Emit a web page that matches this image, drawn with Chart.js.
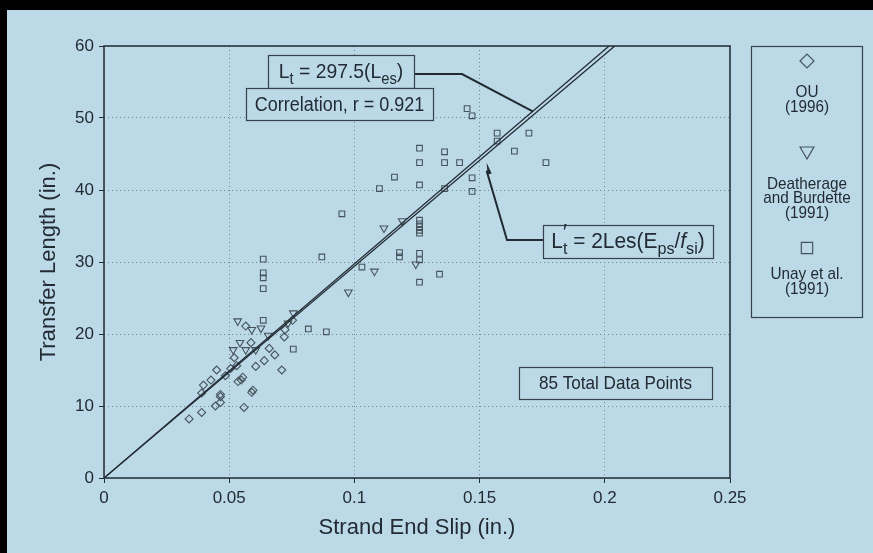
<!DOCTYPE html>
<html>
<head>
<meta charset="utf-8">
<script src="https://cdn.jsdelivr.net/npm/chart.js@4.4.0/dist/chart.umd.min.js"></script>
<style>
  html, body { margin: 0; padding: 0; background: #bcd9e8; }
  #wrap { width: 873px; height: 553px; }
</style>
</head>
<body>
<div id="wrap"><canvas id="myChart" width="873" height="553"></canvas></div>
<script>
// OU (1996) - diamantes
const ouX = [0.034, 0.039, 0.0445, 0.0465, 0.0465, 0.0465, 0.0397, 0.0427, 0.045, 0.0506, 0.053, 0.0535, 0.0548, 0.0554, 0.059, 0.0595, 0.0559, 0.0606, 0.0587, 0.0566, 0.071, 0.0682, 0.066, 0.072, 0.0723, 0.0753, 0.039, 0.0485, 0.064, 0.052];
const ouY = [8.2, 9.1, 10.0, 10.5, 11.3, 11.6, 12.9, 13.6, 15.0, 15.2, 15.6, 13.4, 13.6, 14.0, 11.9, 12.2, 9.8, 15.5, 18.8, 21.1, 15.0, 17.1, 18.0, 19.6, 20.6, 21.9, 11.8, 14.2, 16.3, 16.7];

// Deatherage and Burdette (1991) - triangulos
const dbX = [0.0534, 0.059, 0.0627, 0.0543, 0.0516, 0.0566, 0.0606, 0.0656, 0.0756, 0.1118, 0.1191, 0.108, 0.0976, 0.1245, 0.0735];
const dbY = [21.8, 20.6, 20.8, 18.8, 17.8, 17.8, 17.8, 19.8, 22.9, 34.7, 35.7, 28.7, 25.8, 29.7, 21.5];

// Unay et al. (1991) - cuadrados
const unX = [0.0636, 0.0636, 0.0636, 0.0636, 0.0636, 0.0816, 0.0888, 0.0756, 0.145, 0.147, 0.157, 0.157, 0.1697, 0.1639, 0.1765, 0.126, 0.136, 0.126, 0.136, 0.142, 0.147, 0.147, 0.116, 0.110, 0.126, 0.136, 0.095, 0.126, 0.126, 0.126, 0.126, 0.126, 0.118, 0.118, 0.126, 0.126, 0.134, 0.126, 0.103, 0.087];
const unY = [30.4, 28.5, 27.8, 26.3, 21.9, 20.7, 20.3, 17.9, 51.3, 50.3, 47.9, 46.8, 47.9, 45.4, 43.8, 45.8, 45.3, 43.8, 43.8, 43.8, 41.7, 39.8, 41.8, 40.2, 40.7, 40.2, 36.7, 35.8, 35.3, 34.9, 34.4, 34.0, 31.3, 30.7, 31.2, 30.3, 28.3, 27.2, 29.3, 30.7];

// rectas de ajuste (desde el origen hasta el borde superior)
const ltX = [0, 0.2017];
const ltY = [0, 60];
const ltpX = [0, 0.2040];
const ltpY = [0, 60];

const xTicks = [0, 0.05, 0.1, 0.15, 0.2, 0.25];
const yTicks = [0, 10, 20, 30, 40, 50, 60];

const BG = '#bcd9e8';
const INK = '#222b33';
const MARK = '#47545e';
const FONT = '"Liberation Sans", Arial, Helvetica, sans-serif';

const toPoints = (xs, ys) => xs.map((x, i) => ({ x: x, y: ys[i] }));

function fontFor(kind, size) {
    if (kind === 'sub') return `${Math.round(size * 0.78)}px ${FONT}`;
    if (kind === 'i') return `italic ${size}px ${FONT}`;
    return `${size}px ${FONT}`;
}

// texto con subindices, centrado en cx, linea base en by, comprimido en horizontal
function richText(ctx, parts, cx, by, size, sx) {
    const w = (p) => {
        if (p[1] === 'pr') return 0;
        ctx.font = fontFor(p[1], size);
        return ctx.measureText(p[0]).width * sx;
    };
    const total = parts.reduce((s, p) => s + w(p), 0);
    let x = cx - total / 2;
    ctx.fillStyle = INK;
    ctx.textAlign = 'left';
    ctx.textBaseline = 'alphabetic';
    parts.forEach((p) => {
        ctx.font = fontFor(p[1], size);
        let dy = 0;
        if (p[1] === 'sub') dy = size * 0.28;
        if (p[1] === 'pr') dy = -size * 0.42;
        ctx.save();
        ctx.translate(x, by + dy);
        ctx.scale(sx, 1);
        ctx.fillText(p[0], 0, 0);
        ctx.restore();
        x += w(p);
    });
}

function box(ctx, x1, y1, x2, y2) {
    ctx.fillStyle = BG;
    ctx.fillRect(x1, y1, x2 - x1, y2 - y1);
    ctx.strokeStyle = '#36424b';
    ctx.lineWidth = 1.2;
    ctx.strokeRect(x1 + 0.5, y1 + 0.5, x2 - x1, y2 - y1);
}

const paperPlugin = {
    id: 'paper',
    beforeDraw(chart) {
        const ctx = chart.ctx;
        ctx.save();
        ctx.fillStyle = BG;
        ctx.fillRect(0, 0, chart.width, chart.height);
        ctx.fillStyle = '#000';
        ctx.fillRect(0, 0, chart.width, 10);
        ctx.fillRect(0, 0, 7, chart.height);
        ctx.restore();
    },
    afterDraw(chart) {
        const ctx = chart.ctx;
        const a = chart.chartArea;
        const xs = chart.scales.x;
        const ys = chart.scales.y;
        ctx.save();

        // marco del grafico
        ctx.strokeStyle = INK;
        ctx.lineWidth = 1.5;
        ctx.strokeRect(a.left, a.top, a.right - a.left, a.bottom - a.top);

        // llamada 1: Lt = 297.5(Les)
        const tip1x = xs.getPixelForValue(0.1714);
        const tip1y = ys.getPixelForValue(50.9);
        ctx.strokeStyle = INK;
        ctx.lineWidth = 2;
        ctx.beginPath();
        ctx.moveTo(414, 74);
        ctx.lineTo(462, 74);
        ctx.lineTo(tip1x, tip1y);
        ctx.stroke();

        // llamada 2: L't = 2Les(Eps/fsi)
        const tip2x = xs.getPixelForValue(0.1528);
        const tip2y = ys.getPixelForValue(43.8);
        ctx.beginPath();
        ctx.moveTo(543, 240);
        ctx.lineTo(507, 240);
        ctx.lineTo(tip2x, tip2y + 8);
        ctx.stroke();
        // punta de flecha
        const ang = Math.atan2(tip2y - 240, tip2x - 507);
        ctx.fillStyle = INK;
        ctx.beginPath();
        ctx.moveTo(tip2x, tip2y);
        ctx.lineTo(tip2x - 12 * Math.cos(ang - 0.18), tip2y - 12 * Math.sin(ang - 0.18));
        ctx.lineTo(tip2x - 12 * Math.cos(ang + 0.18), tip2y - 12 * Math.sin(ang + 0.18));
        ctx.closePath();
        ctx.fill();

        box(ctx, 268, 55, 414, 88);
        richText(ctx, [['L', 'n'], ['t', 'sub'], [' = 297.5(L', 'n'], ['es', 'sub'], [')', 'n']], 341, 78, 21, 0.92);
        box(ctx, 246, 88, 433, 120);
        richText(ctx, [['Correlation, r = 0.921', 'n']], 339.5, 111, 20, 0.9);

        box(ctx, 543, 225, 713, 258);
        richText(ctx, [['L', 'n'], ['\u2032', 'pr'], ['t', 'sub'], [' = 2Les(E', 'n'], ['ps', 'sub'], ['/', 'n'], ['f', 'i'], ['si', 'sub'], [')', 'n']], 628, 248, 22, 0.95);

        box(ctx, 519, 367, 712, 399);
        richText(ctx, [['85 Total Data Points', 'n']], 615.5, 389, 19, 0.9);

        // leyenda
        box(ctx, 751, 46, 862, 317);
        const lx = 807;
        const h = Chart.helpers;
        ctx.strokeStyle = MARK;
        ctx.lineWidth = 1.2;
        h.drawPoint(ctx, { pointStyle: 'rectRot', radius: 7, borderWidth: 1.2 }, lx, 61);
        h.drawPoint(ctx, { pointStyle: 'triangle', rotation: 180, radius: 8, borderWidth: 1.2 }, lx, 151);
        h.drawPoint(ctx, { pointStyle: 'rect', radius: 8, borderWidth: 1.2 }, lx, 248);
        const leg = [['OU', 97], ['(1996)', 112], ['Deatherage', 189], ['and Burdette', 203], ['(1991)', 218], ['Unay et al.', 279], ['(1991)', 294]];
        leg.forEach((l) => richText(ctx, [[l[0], 'n']], lx, l[1], 17, 0.9));

        ctx.restore();
    }
};

const markerBase = {
    backgroundColor: 'rgba(0,0,0,0)',
    borderColor: MARK,
    borderWidth: 1.1,
    pointHoverRadius: 4
};

const config = {
    type: 'scatter',
    data: {
        datasets: [
            { label: 'Lt = 297.5(Les)', data: toPoints(ltX, ltY), showLine: true, pointRadius: 0, borderColor: INK, borderWidth: 1.3, fill: false },
            { label: "L't = 2Les(Eps/fsi)", data: toPoints(ltpX, ltpY), showLine: true, pointRadius: 0, borderColor: INK, borderWidth: 1.3, fill: false },
            Object.assign({ label: 'OU (1996)', data: toPoints(ouX, ouY), pointStyle: 'rectRot', pointRadius: 4 }, markerBase),
            Object.assign({ label: 'Deatherage and Burdette (1991)', data: toPoints(dbX, dbY), pointStyle: 'triangle', rotation: 180, pointRadius: 4.4 }, markerBase),
            Object.assign({ label: 'Unay et al. (1991)', data: toPoints(unX, unY), pointStyle: 'rect', pointRadius: 4 }, markerBase)
        ]
    },
    options: {
        responsive: false,
        animation: false,
        layout: { padding: { top: 46, right: 143, left: 0, bottom: 0 } },
        plugins: {
            legend: { display: false },
            tooltip: { enabled: false }
        },
        scales: {
            x: {
                type: 'linear',
                min: 0,
                max: 0.25,
                afterFit: (s) => { s.height = 75; },
                afterBuildTicks: (s) => { s.ticks = xTicks.map((v) => ({ value: v })); },
                ticks: {
                    color: INK,
                    font: { family: FONT, size: 17 },
                    padding: 5,
                    callback: (v) => String(Math.round(v * 100) / 100)
                },
                grid: { color: '#6d8796', lineWidth: 1, tickColor: INK, tickLength: 5, tickWidth: 1, tickBorderDash: [] },
                border: { display: false, dash: [1, 3] },
                title: { display: true, text: 'Strand End Slip (in.)', color: INK, font: { family: FONT, size: 22 }, padding: { top: 0, bottom: 12 } }
            },
            y: {
                type: 'linear',
                min: 0,
                max: 60,
                afterFit: (s) => { s.width = 104; },
                afterBuildTicks: (s) => { s.ticks = yTicks.map((v) => ({ value: v })); },
                ticks: {
                    color: INK,
                    font: { family: FONT, size: 17 },
                    padding: 5
                },
                grid: { color: '#6d8796', lineWidth: 1, tickColor: INK, tickLength: 5, tickWidth: 1, tickBorderDash: [] },
                border: { display: false, dash: [1, 3] },
                title: { display: true, text: 'Transfer Length (in.)', color: INK, font: { family: FONT, size: 22 }, padding: { top: 36, bottom: 0 } }
            }
        }
    },
    plugins: [paperPlugin]
};

const chartInstance = new Chart(document.getElementById('myChart').getContext('2d'), config);
</script>
</body>
</html>
